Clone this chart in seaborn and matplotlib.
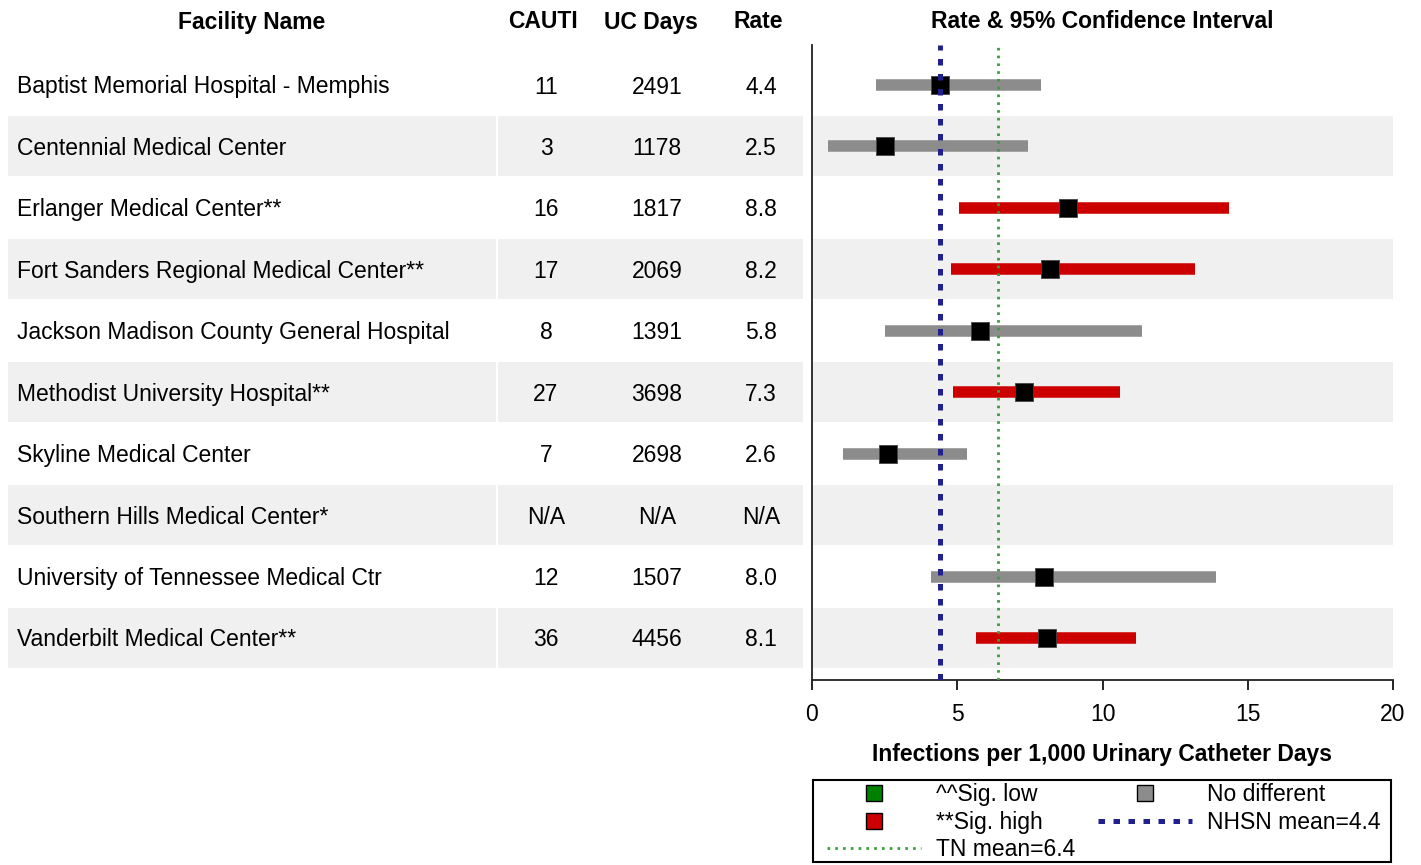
import matplotlib
matplotlib.use("Agg")
import matplotlib.pyplot as plt
from matplotlib.lines import Line2D
from matplotlib.patches import Rectangle
import numpy as np
import pandas as pd
import seaborn as sns

facilities = [
    "Baptist Memorial Hospital - Memphis",
    "Centennial Medical Center",
    "Erlanger Medical Center**",
    "Fort Sanders Regional Medical Center**",
    "Jackson Madison County General Hospital",
    "Methodist University Hospital**",
    "Skyline Medical Center",
    "Southern Hills Medical Center*",
    "University of Tennessee Medical Ctr",
    "Vanderbilt Medical Center**",
]
cauti = [11, 3, 16, 17, 8, 27, 7, None, 12, 36]
uc_days = [2491, 1178, 1817, 2069, 1391, 3698, 2698, None, 1507, 4456]
rate = [4.4, 2.5, 8.8, 8.2, 5.8, 7.3, 2.6, np.nan, 8.0, 8.1]
ci_low = [2.2, 0.55, 5.05, 4.8, 2.5, 4.85, 1.05, np.nan, 4.1, 5.65]
ci_high = [7.9, 7.45, 14.35, 13.2, 11.35, 10.6, 5.35, np.nan, 13.9, 11.15]
status = ["same", "same", "high", "high", "same", "high", "same", "na", "same", "high"]

nhsn_mean = 4.4
tn_mean = 6.4

status_colors = {"low": "#008000", "high": "#CC0000", "same": "#8C8C8C", "na": "#8C8C8C"}
band_color = "#F0F0F0"

df = pd.DataFrame({
    "facility": facilities,
    "rate": rate,
    "lo": ci_low,
    "hi": ci_high,
    "status": status,
})
df["row"] = np.arange(len(df))

sns.set_theme(style="ticks")
plt.rcParams["font.family"] = ["Liberation Sans", "DejaVu Sans"]
plt.rcParams["text.color"] = "black"
plt.rcParams["axes.labelcolor"] = "black"
plt.rcParams["xtick.color"] = "black"
fs = 16.5

fig = plt.figure(figsize=(14.21, 8.65), dpi=100)
W, H = 1421, 865
top_px, bot_px = 45, 680
row0_px, row_step = 85, 61.44
ylim = ((bot_px - row0_px) / row_step, -(row0_px - top_px) / row_step)
head_y = ylim[1] - (top_px - 22) / row_step
txt_dy = 2 / row_step

# table part
ax_t = fig.add_axes([8 / W, 1 - bot_px / H, (803 - 8) / W, (bot_px - top_px) / H])
ax_t.set_xlim(8, 803)
ax_t.set_ylim(*ylim)
ax_t.axis("off")

# plot part
ax = fig.add_axes([812 / W, 1 - bot_px / H, (1393 - 812) / W, (bot_px - top_px) / H])
ax.set_xlim(0, 20)
ax.set_ylim(*ylim)

half = 0.488
for i in range(1, len(df), 2):
    ax.axhspan(i - half, i + half, color=band_color, lw=0, zorder=0)
    for x0, x1 in [(8, 496), (498, 803)]:
        ax_t.add_patch(Rectangle((x0, i - half), x1 - x0, 2 * half,
                                 color=band_color, lw=0, zorder=0))

# table text
headers = [("Facility Name", 252), ("CAUTI", 543), ("UC Days", 651), ("Rate", 758)]
for txt, x in headers:
    ax_t.text(x, head_y, txt, ha="center", va="center", fontsize=fs,
              fontweight="bold", clip_on=False)
ax.text(10, head_y, "Rate & 95% Confidence Interval", ha="center", va="center",
        fontsize=fs, fontweight="bold", clip_on=False)

for i in range(len(df)):
    y = i + txt_dy
    ax_t.text(17, y, facilities[i], ha="left", va="center", fontsize=fs)
    c = "N/A" if cauti[i] is None else str(cauti[i])
    u = "N/A" if uc_days[i] is None else str(uc_days[i])
    r = "N/A" if np.isnan(rate[i]) else f"{rate[i]:.1f}"
    ax_t.text(546, y, c, ha="center", va="center", fontsize=fs)
    ax_t.text(657, y, u, ha="center", va="center", fontsize=fs)
    ax_t.text(761, y, r, ha="center", va="center", fontsize=fs)

# CI bars and rate markers
valid = df.dropna(subset=["rate"])
ax.hlines(valid["row"], valid["lo"], valid["hi"],
          colors=[status_colors[s] for s in valid["status"]],
          linewidth=8.3, zorder=2)
sns.scatterplot(data=valid, x="rate", y="row", marker="s", s=155, color="black",
                edgecolor="#444444", linewidth=0.6, zorder=3, ax=ax, legend=False)

# reference lines
ax.axvline(nhsn_mean, color="#20208F", lw=3.6, dashes=(1.3, 1.7), zorder=4)
ax.axvline(tn_mean, color="#3A9E3A", lw=2.0, dashes=(0.95, 1.85), zorder=4)

ax.set_yticks([])
ax.set_ylabel("")
ax.set_xticks([0, 5, 10, 15, 20])
ax.tick_params(axis="x", labelsize=fs, length=7, width=1.2, pad=9.5, color="black")
ax.set_xlabel("Infections per 1,000 Urinary Catheter Days", fontsize=fs,
              fontweight="bold", labelpad=12.5)
for side in ["top", "right"]:
    ax.spines[side].set_visible(False)
for side in ["left", "bottom"]:
    ax.spines[side].set_color("#222222")
    ax.spines[side].set_linewidth(1.3)

# legend
handles = [
    Line2D([], [], ls="none", marker="s", ms=11.5, mfc=status_colors["low"], mec="black", mew=1),
    Line2D([], [], ls="none", marker="s", ms=11.5, mfc=status_colors["high"], mec="black", mew=1),
    Line2D([], [], color="#3A9E3A", lw=2.0, dashes=(0.95, 1.85)),
    Line2D([], [], ls="none", marker="s", ms=11.5, mfc=status_colors["same"], mec="black", mew=1),
    Line2D([], [], color="#20208F", lw=3.6, dashes=(1.3, 1.7)),
]
labels = ["^^Sig. low", "**Sig. high", "TN mean=6.4", "No different", "NHSN mean=4.4"]
ax.legend(handles, labels, ncol=2, frameon=False, fontsize=fs,
          loc="upper left", bbox_to_anchor=((827 - 812) / 581, (bot_px - 783) / 635),
          borderpad=0, borderaxespad=0, handlelength=4.1, handletextpad=0.65,
          columnspacing=1.0, labelspacing=0.2)
ax.add_patch(Rectangle(((813 - 812) / 581, (bot_px - 862) / 635), (1391 - 813) / 581,
                       82 / 635, transform=ax.transAxes, fill=False, ec="black",
                       lw=1.5, clip_on=False))

fig.savefig("out.png", dpi=100)
